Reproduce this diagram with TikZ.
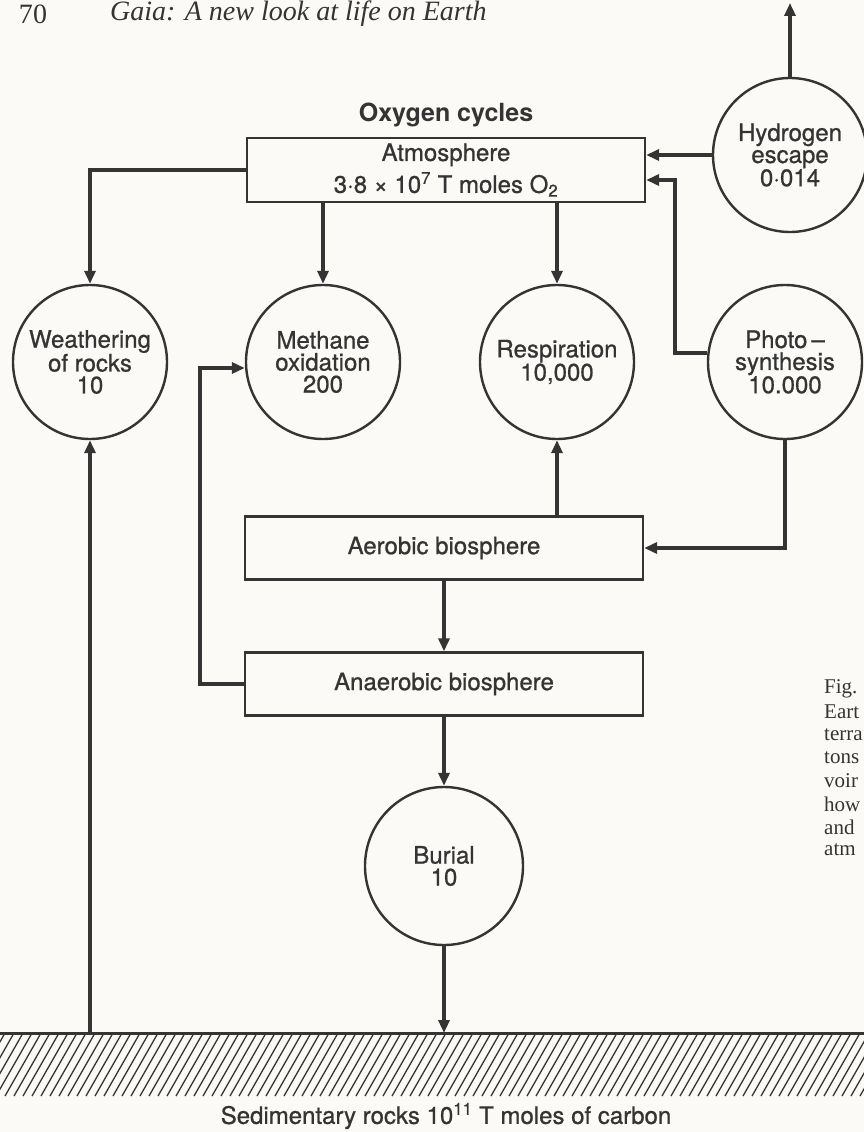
\documentclass[tikz,border=0pt]{standalone}
\usepackage{fontspec}
\setmainfont{TeX Gyre Heros}[UprightFeatures={FakeBold=0.8}]
\newfontfamily\bookfont{Liberation Serif}
\usetikzlibrary{arrows.meta,positioning}

\definecolor{ink}{RGB}{52,52,52}
\definecolor{paper}{RGB}{251,250,246}

\begin{document}
\begin{tikzpicture}[
      x=1pt, y=-1pt,
      font=\fontsize{24}{22}\selectfont,
      every node/.style={text=ink},
      reservoir/.style={rectangle, draw=ink, line width=2.3pt, minimum width=398pt, minimum height=63pt, align=center},
      flux/.style={circle, draw=ink, line width=2.4pt, minimum size=154pt, inner sep=0pt, align=center},
      arrow/.style={-{Triangle[length=13pt, width=11pt]}, line width=3.6pt, draw=ink},
      link/.style={line width=3pt, draw=ink},
      bookline/.style={font=\bookfont\fontsize{21}{23}\selectfont, anchor=west, inner sep=0pt}
  ]

  % Page
  \fill [paper] (0,0) rectangle (864,1132);
  \useasboundingbox (0,0) rectangle (864,1132);

  % Running head
  \node (pageno) [font=\bookfont\fontsize{28}{28}\selectfont] at (33,14) {70};
  \node (runhead) [font=\bookfont\itshape\fontsize{28}{28}\selectfont, anchor=west, inner sep=0pt] at (110,14) {Gaia: A new look at life on Earth};

  % Nodes
  \node (atm) [reservoir, minimum height=64pt] at (446,170) {Atmosphere\\[5pt]3·8 × 10\textsuperscript{7} T moles O\textsubscript{2}};
  \node (title) [above=6pt of atm, font=\bfseries\fontsize{25}{25}\selectfont] {Oxygen cycles};
  \node (hyd) [flux] at (790,155) {Hydrogen\\escape\\0·014};
  \node (weath) [flux] at (90,362) {Weathering\\of rocks\\10};
  \node (meth) [flux] at (323,362) {Methane\\oxidation\\200};
  \node (resp) [flux] at (557,362) {Respiration\\10,000};
  \node (photo) [flux] at (785,362) {Photo\,–\\synthesis\\10.000};
  \node (aero) [reservoir] at (444,548) {Aerobic biosphere};
  \node (anaer) [reservoir] at (444,684) {Anaerobic biosphere};
  \node (burial) [flux, minimum size=158pt] at (444,866) {Burial\\10};

  % Sediment
  \coordinate (gleft) at (0,1033);
  \coordinate (gright) at (864,1033);
  \coordinate (gweath) at (90,1033);
  \coordinate (gbur) at (444,1033);
  \coordinate (space) at (790,3);
  \begin{scope}
    \clip (0,1033) rectangle (864,1096);
    \foreach \x in {-40,-31,...,872}
      \draw [ink, line width=1.3pt] (\x,1096) -- ++(36,-63);
  \end{scope}
  \draw [link] (gleft) -- (gright);
  \node (sediment) at (446,1116) {Sedimentary rocks 10\textsuperscript{11} T moles of carbon};

  % Arrows
  \draw [arrow] (hyd) -- (space);
  \draw [arrow] (hyd.west) -- (hyd.west -| atm.east);
  \draw [arrow] ([yshift=9pt]photo.west) -- ++(-32,0) |- ([yshift=-10pt]atm.east);
  \draw [arrow] (atm.west) -| (weath.north);
  \draw [arrow] (atm.south -| meth.north) -- (meth.north);
  \draw [arrow] (atm.south -| resp.north) -- (resp.north);
  \draw [arrow] (aero.north -| resp.south) -- (resp.south);
  \draw [arrow] (photo.south) |- (aero.east);
  \draw [arrow] (aero) -- (anaer);
  \draw [arrow] (anaer.west) -- ++(-44,0) |- ([yshift=-6pt]meth.west);
  \draw [arrow] (anaer) -- (burial);
  \draw [arrow] (burial) -- (gbur);
  \draw [arrow] (gweath) -- (weath);

  % Caption (cut by the page edge)
  \foreach \w [count=\i] in {Fig.,Eart,terra,tons,voir,how,and,atm}
    \node (cap\i) [bookline] at (824,666+23*\i) {\w};

\end{tikzpicture}
\end{document}
